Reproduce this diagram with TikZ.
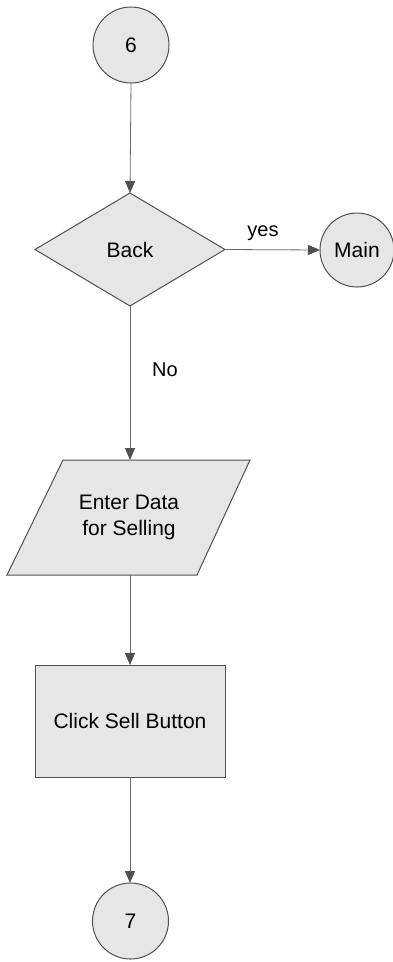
\documentclass[tikz,border=0pt]{standalone}
\usepackage{fontspec}
\setmainfont{Liberation Sans}
\usetikzlibrary{shapes.geometric,arrows.meta}
\definecolor{shapefill}{HTML}{E6E6E8}
\definecolor{edge}{HTML}{505050}
\definecolor{linec}{HTML}{6A6A6A}
\tikzset{
  conn/.style={circle, fill=shapefill, draw=edge, line width=1pt, minimum size=76pt, inner sep=0pt, outer sep=0pt, font=\fontsize{21}{25}\selectfont},
  decision/.style={diamond, fill=shapefill, draw=edge, line width=1pt, minimum width=190pt, minimum height=113pt, inner sep=0pt, outer sep=0pt, font=\fontsize{21}{25}\selectfont},
  process/.style={rectangle, fill=shapefill, draw=edge, line width=1pt, minimum width=190pt, minimum height=112pt, inner sep=0pt, outer sep=0pt, font=\fontsize{21}{25}\selectfont},
  iotext/.style={minimum width=134pt, minimum height=115pt, inner sep=0pt, outer sep=0pt, align=center, font=\fontsize{21}{26}\selectfont},
  flow/.style={draw=linec, line width=0.8pt, -{Triangle[length=12pt,width=10pt,fill=edge,color=edge]}},
  lbl/.style={font=\fontsize{20}{24}\selectfont, inner sep=0pt}
}
\begin{document}
\begin{tikzpicture}[x=1pt,y=-1pt]
\useasboundingbox (0,0) rectangle (393,962);
\node[conn] (c6) at (131,45) {6};
\node[decision] (back) at (130,249.5) {Back};
\node[conn, minimum size=74pt] (main) at (357,250) {Main};
% parallelogram
\fill[shapefill] (63,460) -- (250,460) -- (197,575) -- (7,575) -- cycle;
\draw[edge, line width=1pt] (63,460) -- (250,460) -- (197,575) -- (7,575) -- cycle;
\node[iotext] (data) at (129,517.5) {Enter Data\\for Selling};
\node[process] (sell) at (130,721) {Click Sell Button};
\node[conn] (c7) at (130.5,921) {7};
\draw[flow] (c6.south) -- (back.north);
\draw[flow] (back.east) -- (main.west);
\draw[flow] (back.south) -- (data.north -| back.south);
\draw[flow] (data.south -| sell.north) -- (sell.north);
\draw[flow] (sell.south) -- (c7.north -| sell.south);
\node[lbl] (yes) at (263,233) {yes};
\node[lbl] (no) at (165,370) {No};
\end{tikzpicture}
\end{document}
